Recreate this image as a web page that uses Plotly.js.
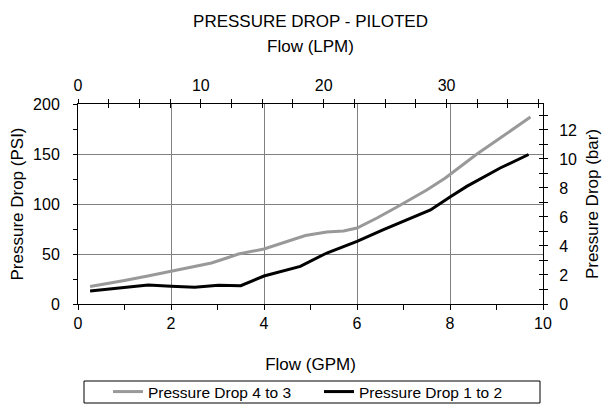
<!DOCTYPE html>
<html>
<head>
<meta charset="utf-8">
<script src="https://cdn.plot.ly/plotly-3.0.1.min.js"></script>
<style>html,body{margin:0;padding:0;background:#fff;}#chart{width:608px;height:410px;}</style>
</head>
<body>
<div id="chart"></div>
<script>
// Flow (GPM) and pressure drop (PSI)
var gpm43 = [0.26, 0.6, 1.0, 1.5, 2.0, 2.5, 2.87, 3.2, 3.45, 4.0, 4.35, 4.6, 4.89, 5.35, 5.71, 6.0, 6.43, 6.86, 7.15, 7.5, 7.9, 8.58, 9.08, 9.4, 9.73];
var psi43 = [17.5, 20, 23.5, 28, 32.5, 37, 41, 46, 50, 55, 60, 64, 68.5, 72, 73, 76, 86, 97, 105, 114, 126, 150, 166, 176, 187];
var gpm12 = [0.26, 0.6, 1.0, 1.51, 2.0, 2.51, 3.02, 3.5, 4.0, 4.78, 5.35, 6.0, 6.57, 7.15, 7.58, 8.0, 8.36, 9.08, 9.69];
var psi12 = [13, 14.5, 16, 19, 17.7, 16.7, 18.7, 18.3, 28, 37.6, 51, 62.6, 74.3, 86, 94, 107, 117.6, 136, 149.5];
var seriesNames = ["Pressure Drop 4 to 3", "Pressure Drop 1 to 2"];
var titleText = "PRESSURE DROP - PILOTED";
var xTitle = "Flow (GPM)", x2Title = "Flow (LPM)";
var yTitle = "Pressure Drop (PSI)", y2Title = "Pressure Drop (bar)";
var gpmRange = [0, 10], psiRange = [0, 200];
var LPM_PER_GPM = 3.78541, BAR_PER_PSI = 0.0689476;

var F = "Arial, 'Liberation Sans', sans-serif";
var traces = [
  {x: gpm43, y: psi43, name: seriesNames[0], type: "scatter", mode: "lines",
   line: {color: "#999999", width: 3}, xaxis: "x", yaxis: "y"},
  {x: gpm12, y: psi12, name: seriesNames[1], type: "scatter", mode: "lines",
   line: {color: "#000000", width: 3}, xaxis: "x", yaxis: "y"},
  {x: [], y: [], xaxis: "x2", yaxis: "y2", showlegend: false, hoverinfo: "skip"},
  {x: [], y: [], xaxis: "x3", yaxis: "y3", showlegend: false, hoverinfo: "skip"}
];
var tf = {family: F, size: 16, color: "#000"};
var ttf = {family: F, size: 17, color: "#000"};
var layout = {
  width: 608, height: 410,
  margin: {l: 78, r: 65, t: 104, b: 106, autoexpand: false},
  paper_bgcolor: "#fff", plot_bgcolor: "#fff",
  font: tf,
  showlegend: true,
  title: {text: titleText, font: ttf, x: 0.5, xref: "paper", xanchor: "center", y: 1 - 21/410, yref: "container", yanchor: "middle"},
  xaxis: {range: gpmRange, dtick: 2, tick0: 0, showgrid: true, gridcolor: "#808080", gridwidth: 1,
    showline: true, linecolor: "#000", linewidth: 1, ticks: "outside", ticklen: 5, tickcolor: "#000",
    minor: {dtick: 1, ticks: "outside", ticklen: 5, tickcolor: "#000"}, zeroline: false,
    tickfont: tf, ticklabelstandoff: 0,
    title: {text: xTitle, font: ttf, standoff: 26}},
  yaxis: {range: psiRange, dtick: 50, tick0: 0, showgrid: true, gridcolor: "#808080", gridwidth: 1,
    showline: true, linecolor: "#000", linewidth: 1, ticks: "outside", ticklen: 4, tickcolor: "#000",
    minor: {dtick: 25, ticks: "outside", ticklen: 4, tickcolor: "#000"}, zeroline: false,
    tickfont: tf, ticklabelstandoff: 10,
    title: {text: yTitle, font: ttf, standoff: 5}},
  xaxis2: {range: [gpmRange[0]*LPM_PER_GPM, gpmRange[1]*LPM_PER_GPM], overlaying: "x", side: "top", anchor: "y",
    dtick: 10, tick0: 0, showgrid: false, zeroline: false, showline: true, linecolor: "#000", linewidth: 1,
    ticks: "outside", ticklen: 4, tickcolor: "#000",
    minor: {dtick: 2.5, ticks: "outside", ticklen: 4, tickcolor: "#000"},
    tickfont: tf, ticklabelstandoff: 2,
    title: {text: x2Title, font: ttf, standoff: 19}},
  yaxis2: {range: [psiRange[0]*BAR_PER_PSI, psiRange[1]*BAR_PER_PSI], overlaying: "y", side: "right", anchor: "x",
    dtick: 2, tick0: 0, showgrid: false, zeroline: false, showline: true, linecolor: "#000", linewidth: 1,
    ticks: "outside", ticklen: 4, tickcolor: "#000",
    minor: {dtick: 1, ticks: "outside", ticklen: 4, tickcolor: "#000"},
    tickfont: tf, ticklabelstandoff: 8,
    title: {text: y2Title, font: ttf, standoff: 10}},
  xaxis3: {range: [gpmRange[0]*LPM_PER_GPM, gpmRange[1]*LPM_PER_GPM], overlaying: "x", side: "top", anchor: "y",
    dtick: 10, tick0: 0, showgrid: false, zeroline: false, showline: false, showticklabels: false,
    ticks: "inside", ticklen: 4, tickcolor: "#000",
    minor: {dtick: 2.5, ticks: "inside", ticklen: 4, tickcolor: "#000"}},
  yaxis3: {range: [psiRange[0]*BAR_PER_PSI, psiRange[1]*BAR_PER_PSI], overlaying: "y", side: "right", anchor: "x",
    dtick: 2, tick0: 0, showgrid: false, zeroline: false, showline: false, showticklabels: false,
    ticks: "inside", ticklen: 4, tickcolor: "#000",
    minor: {dtick: 1, ticks: "inside", ticklen: 4, tickcolor: "#000"}},
  legend: {orientation: "h", x: (108 - 78) / 465, xanchor: "left", xref: "paper",
    y: (304 - 392) / 200, yanchor: "middle", yref: "paper",
    bgcolor: "rgba(0,0,0,0)", borderwidth: 0, font: {family: F, size: 15.5, color: "#000"},
    entrywidth: 166, entrywidthmode: "pixels",
    traceorder: "normal", itemclick: false},
  shapes: [{type: "rect", xref: "paper", yref: "paper",
    x0: (84 - 78) / 465, x1: (540 - 78) / 465, y0: (304 - 381) / 200, y1: (304 - 403) / 200,
    line: {color: "#000", width: 1}, fillcolor: "rgba(0,0,0,0)", layer: "above"}]
};
Plotly.newPlot("chart", traces, layout, {staticPlot: true, displayModeBar: false});
</script>
</body>
</html>
